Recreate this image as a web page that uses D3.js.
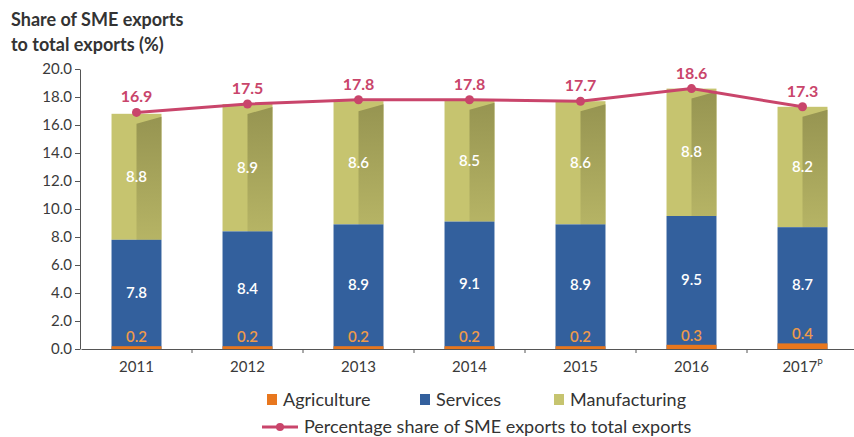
<!DOCTYPE html>
<html>
<head>
<meta charset="utf-8">
<script src="https://cdn.jsdelivr.net/npm/d3@7"></script>
<style>
  body { margin: 0; background: #fff; }
  svg { font-family: Lato, "Open Sans", sans-serif; }
</style>
</head>
<body>
<svg id="chart" width="854" height="437"></svg>
<script>
// chart data
var years = ['2011', '2012', '2013', '2014', '2015', '2016', '2017'];
var agriculture = [0.2, 0.2, 0.2, 0.2, 0.2, 0.3, 0.4];
var services = [7.8, 8.4, 8.9, 9.1, 8.9, 9.5, 8.7];
var manufacturing = [8.8, 8.9, 8.6, 8.5, 8.6, 8.8, 8.2];
var shareTotal = [16.9, 17.5, 17.8, 17.8, 17.7, 18.6, 17.3];
var yTicks = [0, 2, 4, 6, 8, 10, 12, 14, 16, 18, 20];

var colors = {
  agri: '#e8771e',
  agriText: '#ee9a4a',
  serv: '#33609d',
  manu: '#c6c46f',
  manuDark: '#8e8c4c',
  line: '#c9456b',
  text: '#333333'
};

var svg = d3.select('#chart');

var x = d3.scaleBand()
  .domain(years)
  .range([81, 858])
  .paddingInner(0.55)
  .paddingOuter(0.275);

var y = d3.scaleLinear()
  .domain([0, 20])
  .range([349, 69]);

// title
svg.append('text')
  .attr('x', 11).attr('y', 26)
  .attr('font-size', 18).attr('font-weight', 700)
  .attr('fill', colors.text)
  .text('Share of SME exports');
svg.append('text')
  .attr('x', 11).attr('y', 51)
  .attr('font-size', 18).attr('font-weight', 700)
  .attr('fill', colors.text)
  .text('to total exports (%)');

// y axis
var yAxis = svg.append('g')
  .attr('transform', 'translate(80,0)')
  .call(d3.axisLeft(y).tickValues(yTicks).tickFormat(d3.format('.1f')).tickSize(5).tickSizeOuter(0));
yAxis.select('.domain').attr('stroke', '#555');
yAxis.selectAll('.tick line').attr('stroke', '#555');
yAxis.selectAll('.tick text')
  .attr('font-size', 15).attr('fill', '#3a3a3a')
  .attr('font-family', 'Lato, sans-serif')
  .attr('x', -8);

// gradient for the shaded side
var defs = svg.append('defs');
var grad = defs.append('linearGradient')
  .attr('id', 'manuSide')
  .attr('x1', 0).attr('y1', 0).attr('x2', 0).attr('y2', 1);
grad.append('stop').attr('offset', '0%').attr('stop-color', colors.manuDark);
grad.append('stop').attr('offset', '100%').attr('stop-color', '#b3b163');

// bars: manufacturing block reaches the total, services and agriculture sit from zero
var bars = svg.append('g').selectAll('g.bar')
  .data(years)
  .enter()
  .append('g')
  .attr('class', 'bar');

bars.each(function(yr, i) {
  var g = d3.select(this);
  var x0 = x(yr);
  var w = x.bandwidth();
  var a = agriculture[i], s = services[i], m = manufacturing[i];
  var total = a + s + m;
  var mid = x0 + w / 2;

  g.append('rect')
    .attr('x', x0).attr('width', w)
    .attr('y', y(total)).attr('height', y(s) - y(total))
    .attr('fill', colors.manu);

  // shaded right face of the manufacturing block
  var top = y(total);
  var bottom = y(s);
  g.append('path')
    .attr('d', 'M' + mid + ',' + (top + 10) +
      'L' + (x0 + w) + ',' + (top + 3) +
      'L' + (x0 + w) + ',' + bottom +
      'L' + mid + ',' + bottom + 'Z')
    .attr('fill', 'url(#manuSide)')
    .attr('opacity', 0.85);

  g.append('rect')
    .attr('x', x0).attr('width', w)
    .attr('y', y(s)).attr('height', y(0) - y(s))
    .attr('fill', colors.serv);

  g.append('rect')
    .attr('x', x0).attr('width', w)
    .attr('y', y(a)).attr('height', y(0) - y(a))
    .attr('fill', colors.agri);

  // value labels
  g.append('text')
    .attr('x', mid).attr('y', (y(s) + y(total)) / 2 + 5)
    .attr('text-anchor', 'middle')
    .attr('font-size', 15).attr('font-weight', 600)
    .attr('fill', '#fff')
    .text(m.toFixed(1));
  g.append('text')
    .attr('x', mid).attr('y', (y(a) + y(s)) / 2 + 5)
    .attr('text-anchor', 'middle')
    .attr('font-size', 15).attr('font-weight', 600)
    .attr('fill', '#fff')
    .text(s.toFixed(1));
  g.append('text')
    .attr('x', mid).attr('y', y(a) - 4)
    .attr('text-anchor', 'middle')
    .attr('font-size', 15).attr('font-weight', 600)
    .attr('fill', colors.agriText)
    .text(a.toFixed(1));
});

// x axis
var xAxis = svg.append('g')
  .attr('transform', 'translate(0,349)')
  .call(d3.axisBottom(x).tickSize(0).tickFormat(''));
xAxis.select('.domain').attr('stroke', '#555');
var bounds = years.slice(1).map(function(yr) {
  return x(yr) - x.step() * x.paddingInner() / 2;
});
xAxis.selectAll('line.sep')
  .data(bounds)
  .enter()
  .append('line')
  .attr('class', 'sep')
  .attr('x1', function(d) { return d; })
  .attr('x2', function(d) { return d; })
  .attr('y1', 0).attr('y2', 4)
  .attr('stroke', '#555');

var xLabels = svg.append('g').selectAll('text')
  .data(years)
  .enter()
  .append('text')
  .attr('x', function(d) { return x(d) + x.bandwidth() / 2; })
  .attr('y', 372)
  .attr('text-anchor', 'middle')
  .attr('font-size', 15)
  .attr('fill', '#3a3a3a');
xLabels.append('tspan').text(function(d) { return d; });
xLabels.filter(function(d) { return d === '2017'; })
  .append('tspan')
  .attr('font-size', 9)
  .attr('dy', -6)
  .text('P');

// share line
var line = d3.line()
  .x(function(d, i) { return x(years[i]) + x.bandwidth() / 2; })
  .y(function(d) { return y(d); });

svg.append('path')
  .datum(shareTotal)
  .attr('d', line)
  .attr('fill', 'none')
  .attr('stroke', colors.line)
  .attr('stroke-width', 3);

svg.append('g').selectAll('circle')
  .data(shareTotal)
  .enter()
  .append('circle')
  .attr('cx', function(d, i) { return x(years[i]) + x.bandwidth() / 2; })
  .attr('cy', function(d) { return y(d); })
  .attr('r', 4.5)
  .attr('fill', colors.line);

svg.append('g').selectAll('text')
  .data(shareTotal)
  .enter()
  .append('text')
  .attr('x', function(d, i) { return x(years[i]) + x.bandwidth() / 2; })
  .attr('y', function(d) { return y(d) - 10; })
  .attr('text-anchor', 'middle')
  .attr('font-size', 16).attr('font-weight', 700)
  .attr('fill', colors.line)
  .text(function(d) { return d.toFixed(1); });

// legend
var legendItems = [
  { label: 'Agriculture', color: colors.agri, x: 267 },
  { label: 'Services', color: colors.serv, x: 420 },
  { label: 'Manufacturing', color: colors.manu, x: 554 }
];
var legend = svg.append('g');
legendItems.forEach(function(it) {
  legend.append('rect')
    .attr('x', it.x).attr('y', 394)
    .attr('width', 10).attr('height', 11)
    .attr('fill', it.color);
  legend.append('text')
    .attr('x', it.x + 16).attr('y', 406)
    .attr('font-size', 18).attr('fill', colors.text)
    .text(it.label);
});
legend.append('line')
  .attr('x1', 262).attr('x2', 298)
  .attr('y1', 427).attr('y2', 427)
  .attr('stroke', colors.line).attr('stroke-width', 3);
legend.append('circle')
  .attr('cx', 280).attr('cy', 427).attr('r', 4)
  .attr('fill', colors.line);
legend.append('text')
  .attr('x', 304).attr('y', 433)
  .attr('font-size', 18).attr('fill', colors.text)
  .text('Percentage share of SME exports to total exports');
</script>
</body>
</html>
